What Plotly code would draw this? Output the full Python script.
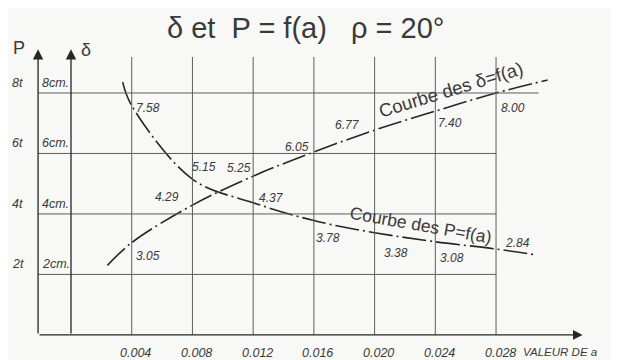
import plotly.graph_objects as go

# valeurs cotees sur l'abaque
valeur_a = [0.004, 0.008, 0.012, 0.016, 0.020, 0.024, 0.028]
delta_cm = [3.05, 4.29, 5.25, 6.05, 6.77, 7.40, 8.00]
p_tonnes = [7.58, 5.15, 4.37, 3.78, 3.38, 3.08, 2.84]

# bouts des courbes (au-dela des points cotes)
delta_bouts_a = [0.0024, 0.0314]
delta_bouts = [2.30, 8.43]
p_bouts_a = [0.0034, 0.0307]
p_bouts = [8.36, 2.64]

graduations = [2, 4, 6, 8]
etiq_p = ["2t", "4t", "6t", "8t"]
etiq_delta = ["2cm.", "4cm.", "6cm.", "8cm."]
etiq_a = ["0.004", "0.008", "0.012", "0.016", "0.020", "0.024", "0.028"]

# decalages des cotes (px) : position seulement
dec_delta = [(16, -13), (-25, 8), (-14, 8), (-17, 5), (-27, 5), (15, -12), (17, -15)]
dec_p = [(16, -2), (12, 12), (18, 5), (14, -17), (21, -20), (17, -16), (21, 6)]

ENCRE = "#262626"
GRILLE = "#5e5e5e"
TEXTE = "#3a3a3a"
FOND = "#f8f8f6"
POLICE = "Liberation Sans"

X_AXE_P = -0.00217
HAUT_GRILLE = 9.19
HAUT_FLECHE = 9.45

fig = go.Figure()

# courbe des delta
fig.add_trace(go.Scatter(
    x=[delta_bouts_a[0]] + valeur_a + [delta_bouts_a[1]],
    y=[delta_bouts[0]] + delta_cm + [delta_bouts[1]],
    mode="lines", line=dict(color=ENCRE, width=1.6, shape="spline",
                            dash="24px,4px,2px,4px"),
    showlegend=False, hoverinfo="skip"))

# courbe des P
fig.add_trace(go.Scatter(
    x=[p_bouts_a[0]] + valeur_a + [p_bouts_a[1]],
    y=[p_bouts[0]] + p_tonnes + [p_bouts[1]],
    mode="lines", line=dict(color=ENCRE, width=1.6, shape="spline",
                            dash="24px,4px,2px,4px"),
    showlegend=False, hoverinfo="skip"))

# grille
for a in valeur_a:
    fig.add_shape(type="line", x0=a, x1=a, y0=0, y1=HAUT_GRILLE,
                  line=dict(color=GRILLE, width=1))
for g in graduations:
    fig.add_shape(type="line", x0=X_AXE_P, x1=valeur_a[-1], y0=g, y1=g,
                  line=dict(color=GRILLE, width=1))
fig.add_shape(type="line", x0=valeur_a[-1], x1=0.0308, y0=graduations[-1], y1=graduations[-1],
              line=dict(color=GRILLE, width=1))

# axes fleches
for xa in (X_AXE_P, 0):
    fig.add_annotation(x=xa, y=HAUT_FLECHE, ax=xa, ay=0, axref="x", ayref="y",
                       text="", showarrow=True, arrowhead=2, arrowsize=1.6,
                       arrowwidth=1.3, arrowcolor=ENCRE)
fig.add_annotation(x=0.0337, y=0, ax=X_AXE_P, ay=0, axref="x", ayref="y",
                   text="", showarrow=True, arrowhead=2, arrowsize=1.6,
                   arrowwidth=1.2, arrowcolor=ENCRE)

# etiquettes des axes verticaux
for g, tp, td in zip(graduations, etiq_p, etiq_delta):
    fig.add_annotation(x=-0.0035, y=g, text="<i>%s</i>" % tp, showarrow=False,
                       yanchor="bottom", yshift=1, font=dict(size=12.5, color=TEXTE, family=POLICE))
    fig.add_annotation(x=-0.0010, y=g, text="<i>%s</i>" % td, showarrow=False,
                       yanchor="bottom", yshift=1, font=dict(size=12.5, color=TEXTE, family=POLICE))
fig.add_annotation(x=-0.0034, y=9.5, text="P", showarrow=False,
                   font=dict(size=18, color=TEXTE, family=POLICE))
fig.add_annotation(x=0.00098, y=9.42, text="δ", showarrow=False,
                   font=dict(size=18, color=TEXTE, family=POLICE))

# etiquettes des a
for a, t in zip(valeur_a, etiq_a):
    fig.add_annotation(x=a, y=-0.6, text="<i>%s</i>" % t, showarrow=False, xshift=4,
                       font=dict(size=12.5, color=TEXTE, family=POLICE))
fig.add_annotation(x=0.0322, y=-0.57, text="<i>VALEUR DE a</i>", showarrow=False,
                   font=dict(size=11.5, color=TEXTE, family=POLICE))

# cotes des courbes
for a, v, d in zip(valeur_a, delta_cm, dec_delta):
    fig.add_annotation(x=a, y=v, text="<i>%.2f</i>" % v, showarrow=False,
                       xshift=d[0], yshift=d[1], font=dict(size=12, color=TEXTE, family=POLICE))
for a, v, d in zip(valeur_a, p_tonnes, dec_p):
    fig.add_annotation(x=a, y=v, text="<i>%.2f</i>" % v, showarrow=False,
                       xshift=d[0], yshift=d[1], font=dict(size=12, color=TEXTE, family=POLICE))

# noms des courbes
fig.add_annotation(x=0.02504, y=8.12, text="Courbe des δ=f(a)", showarrow=False,
                   textangle=-17, font=dict(size=18.5, color=TEXTE, family=POLICE))
fig.add_annotation(x=0.0230, y=3.62, text="Courbe des P=f(a)", showarrow=False,
                   textangle=10, font=dict(size=17.5, color=TEXTE, family=POLICE))

# titre
fig.add_annotation(x=0.01548, y=10.15, text="δ et  P = f(a)   ρ = 20°", showarrow=False,
                   font=dict(size=29, color=TEXTE, family=POLICE))

# la page ajoute 8 px de marge : on reduit la figure d'autant
fig.update_layout(
    width=611, height=352,
    margin=dict(l=0, r=0, t=0, b=0),
    paper_bgcolor=FOND, plot_bgcolor=FOND,
    xaxis=dict(range=[-0.00415, 0.0361], visible=False, fixedrange=True),
    yaxis=dict(range=[-0.83, 10.81], visible=False, fixedrange=True),
    showlegend=False,
)

fig.write_html("out.html")
